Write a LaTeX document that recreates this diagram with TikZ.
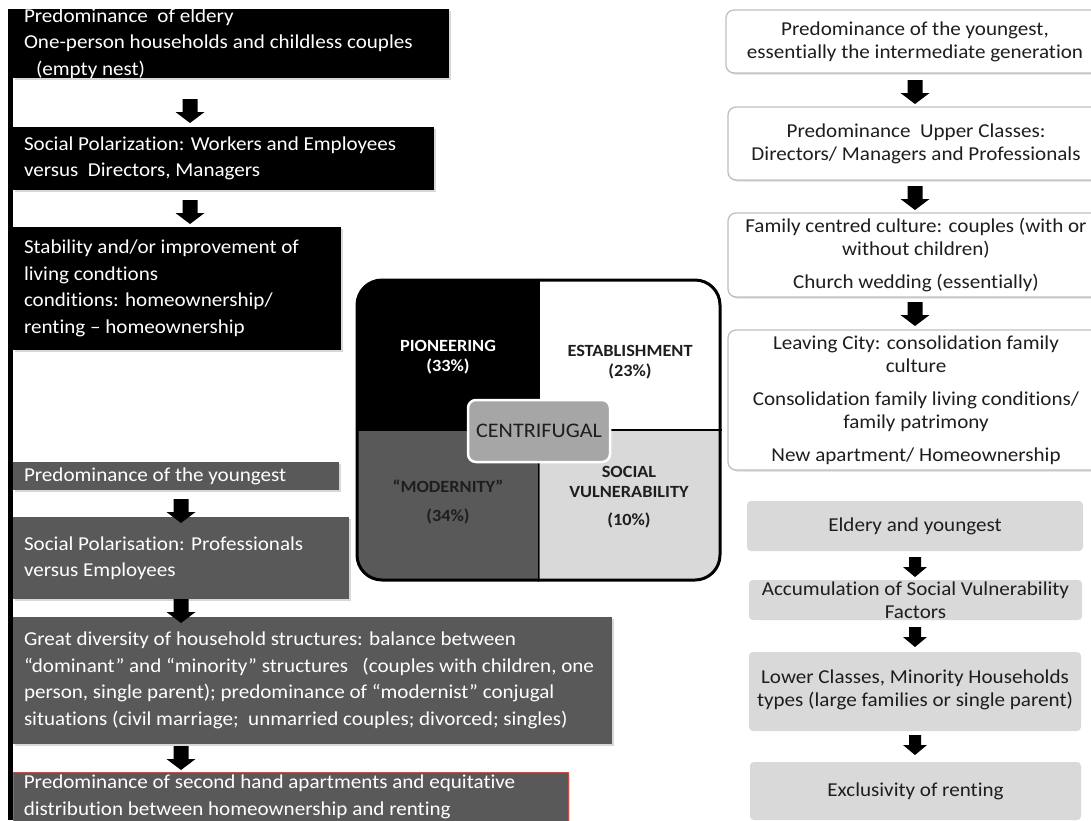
\documentclass[tikz,border=0pt]{standalone}
\usepackage{fontspec}
\setmainfont{Carlito}[FakeStretch=1.07, Ligatures=NoCommon]
\usetikzlibrary{shadows,fit}
\definecolor{dgray}{HTML}{595959}
\definecolor{lgray}{HTML}{D9D9D9}
\definecolor{mgray}{HTML}{A6A6A6}
\definecolor{bordergray}{HTML}{BFBFBF}
\definecolor{txtdark}{HTML}{1E1E1E}
\definecolor{redline}{HTML}{C0504D}
\begin{document}
\begin{tikzpicture}[x=1pt,y=-1pt,
  lbox/.style={rectangle, inner sep=0pt, draw=none,
    drop shadow={shadow xshift=1.5pt, shadow yshift=-1.5pt, opacity=0.3}},
  rbox/.style={rectangle, inner sep=0pt, draw=bordergray, line width=1.3pt, fill=white,
    rounded corners=8pt,
    drop shadow={shadow xshift=1.5pt, shadow yshift=-1.5pt, opacity=0.3}},
  gbox/.style={rectangle, inner sep=0pt, fill=lgray, rounded corners=4pt},
  ltext/.style={anchor=west, inner sep=0pt, align=left, text=white,
    font=\fontsize{19.7}{26.5}\selectfont},
  rtext/.style={inner sep=0pt, align=center, text=txtdark,
    font=\fontsize{19.7}{23}\selectfont},
  qtext/.style={inner sep=0pt, align=center, text=txtdark,
    font=\fontsize{17.1}{20}\selectfont\bfseries},
  darrow/.pic={\fill[black] (-7.5,0) -- (7.5,0) -- (7.5,13) -- (14.5,13) -- (0,24)
    -- (-14.5,13) -- (-7.5,13) -- cycle;},
  sarrow/.pic={\fill[black] (-6,0) -- (6,0) -- (6,10) -- (12,10) -- (0,20)
    -- (-12,10) -- (-6,10) -- cycle;}
]
\clip (0,0) rectangle (1091,820);
\fill[white] (0,0) rectangle (1091,820);

% left vertical bar
\fill[black] (8,9) rectangle (13,820);

% ---------- left column ----------
\node[lbox, fill=black, fit={(13,9) (449,78)}] (b1) {};
\node[ltext] (t1) at ([xshift=11pt]b1.west)
  {Predominance\ \ of eldery\\One-person households and childless couples\\\hspace*{12pt}(empty nest)};
\node[lbox, fill=black, fit={(13,127) (434,190)}] (b2) {};
\node[ltext] (t2) at ([xshift=11pt]b2.west)
  {Social Polarization: Workers and Employees\\versus\ \ Directors, Managers};
\node[lbox, fill=black, fit={(13,227) (341,350)}] (b3) {};
\node[ltext] (t3) at ([xshift=11pt]b3.west)
  {Stability and/or improvement of\\living condtions\\conditions: homeownership/\\renting -- homeownership};
\node[lbox, fill=dgray, fit={(13,462) (339,490)}] (b4) {};
\node[ltext] (t4) at ([xshift=11pt]b4.west) {Predominance of the youngest};
\node[lbox, fill=dgray, fit={(13,517) (349,599)}] (b5) {};
\node[ltext] (t5) at ([xshift=11pt]b5.west)
  {Social Polarisation: Professionals\\versus Employees};
\node[lbox, fill=dgray, fit={(13,617) (612,744)}] (b6) {};
\node[ltext] (t6) at ([xshift=11pt]b6.west)
  {Great diversity of household structures: balance between\\
   “dominant” and “minority” structures\ \ \ (couples with children, one\\
   person, single parent); predominance of “modernist” conjugal\\
   situations (civil marriage;\ \ unmarried couples; divorced; singles)};
\node[lbox, fill=dgray, draw=redline, line width=0.8pt, fit={(13,772) (568,822)}] (b7) {};
\node[ltext] (t7) at ([xshift=11pt]b7.west)
  {Predominance of second hand apartments and equitative\\distribution between homeownership and renting};

\pic (a1) at (190,99) {darrow};
\pic (a2) at (190,200) {darrow};
\pic (a3) at (181,499) {darrow};
\pic (a4) at (181,599) {darrow};
\pic (a5) at (181,746) {darrow};

% ---------- centre quadrant ----------
\begin{scope}
  \clip[rounded corners=25pt] (357,280) rectangle (720,580);
  \fill[black] (357,280) rectangle (540,430);
  \fill[white] (540,280) rectangle (720,430);
  \fill[dgray] (357,430) rectangle (540,580);
  \fill[lgray] (540,430) rectangle (720,580);
\end{scope}
\node[fit={(357,280) (720,580)}, inner sep=0pt, draw=black, line width=3pt,
  rounded corners=25pt] (quad) {};
\draw[line width=1.8pt] (quad.north) -- (quad.south);
\draw[line width=1.8pt] (quad.west) -- (quad.east);
\node[qtext, text=white] (qpio) at (448,357.5) {PIONEERING\\(33\%)};
\node[qtext] (qest) at (630,362.5) {ESTABLISHMENT\\(23\%)};
\node[qtext] (qmod) at (448,502) {“MODERNITY”\\[9pt](34\%)};
\node[qtext] (qsoc) at (629,497.5) {SOCIAL\\VULNERABILITY\\[8pt](10\%)};
\node[fill=mgray, draw=white, line width=2.5pt, rounded corners=8pt,
  minimum width=142pt, minimum height=62pt, inner sep=0pt, text=txtdark,
  font=\fontsize{20.7}{24}\selectfont] (cf) at (539,431) {CENTRIFUGAL};

% ---------- right column (white) ----------
\node[rbox, fit={(726,10) (1104,73)}] (r1) {};
\node[rtext] (rt1) at (r1.center)
  {Predominance of the youngest,\\essentially the intermediate generation};
\node[rbox, fit={(728,107) (1104,180)}] (r2) {};
\node[rtext] (rt2) at (r2.center)
  {Predominance\ \ Upper Classes:\\Directors/ Managers and Professionals};
\node[rbox, fit={(728,213) (1104,297)}] (r3) {};
\node[rtext] (rt3) at (r3.center)
  {Family centred culture: couples (with or\\without children)\\[10pt]Church wedding (essentially)};
\node[rbox, fit={(728,330) (1104,470)}] (r4) {};
\node[rtext] (rt4) at (r4.center)
  {Leaving City: consolidation family\\culture\\[10pt]Consolidation family living conditions/\\family patrimony\\[10pt]New apartment/ Homeownership};

\pic (ra1) at (915,80) {darrow};
\pic (ra2) at (915,186) {darrow};
\pic (ra3) at (915,302) {darrow};

% ---------- right column (grey) ----------
\node[gbox, fit={(747,501) (1083,551)}] (g1) {};
\node[rtext] (gt1) at (g1.center) {Eldery and youngest};
\node[gbox, fit={(749,580) (1082,620)}] (g2) {};
\node[rtext] (gt2) at (g2.center) {Accumulation of Social Vulnerability\\Factors};
\node[gbox, fit={(749,652) (1081,731)}] (g3) {};
\node[rtext] (gt3) at ([yshift=2pt]g3.center) {Lower Classes, Minority Households\\types (large families or single parent)};
\node[gbox, fit={(750,762) (1081,820)}] (g4) {};
\node[rtext] (gt4) at (g4.center) {Exclusivity of renting};

\pic (ga1) at (915,557) {sarrow};
\pic (ga2) at (915,627) {sarrow};
\pic (ga3) at (915,735) {sarrow};
\end{tikzpicture}
\end{document}
